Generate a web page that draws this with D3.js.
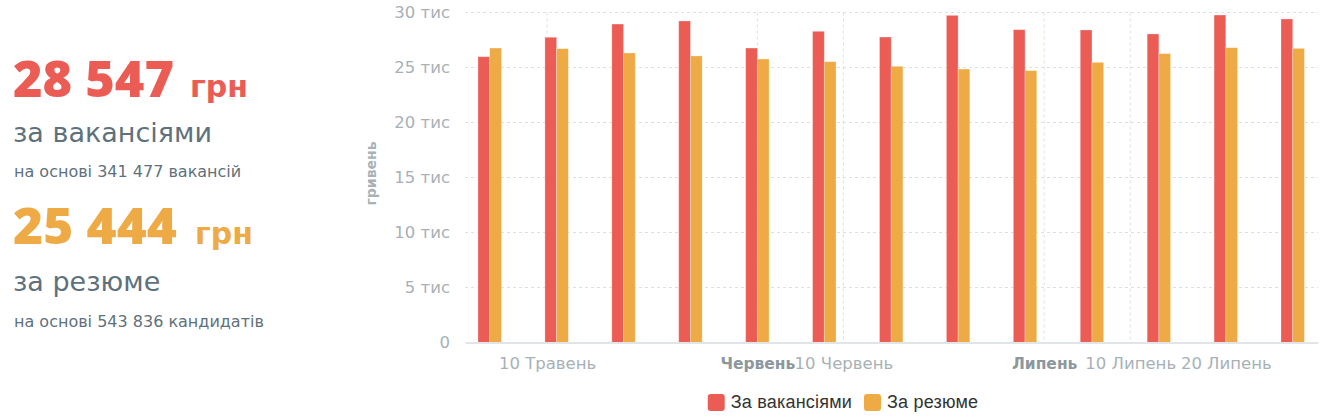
<!DOCTYPE html>
<html>
<head>
<meta charset="utf-8">
<script src="https://cdn.jsdelivr.net/npm/d3@7"></script>
<style>
  html, body { margin: 0; background: #fff; overflow: hidden; }
  svg { display: block; }
</style>
</head>
<body>
<svg width="1335" height="420"></svg>
<script>
// weekly points (Mondays)
const weeks = ['2020-05-04', '2020-05-11', '2020-05-18', '2020-05-25', '2020-06-01', '2020-06-08',
  '2020-06-15', '2020-06-22', '2020-06-29', '2020-07-06', '2020-07-13', '2020-07-20', '2020-07-27'];
const vacancySalary = [25980, 27750, 28950, 29230, 26770, 28290, 27770, 29740, 28440, 28410, 28050, 29770, 29410];
const resumeSalary = [26770, 26710, 26320, 26050, 25770, 25530, 25110, 24860, 24710, 25470, 26260, 26800, 26740];

const seriesNames = ['За вакансіями', 'За резюме'];
const seriesColors = ['#eb5c55', '#edaa45'];

const tickDates = ['2020-05-10', '2020-06-01', '2020-06-10', '2020-07-01', '2020-07-10', '2020-07-20'];
const tickLabels = ['10 Травень', 'Червень', '10 Червень', 'Липень', '10 Липень', '20 Липень'];
const monthStart = [false, true, false, true, false, false];

const yTicks = [0, 5000, 10000, 15000, 20000, 25000, 30000];

const summary = [
  { value: '28 547', unit: 'грн', label: 'за вакансіями', note: 'на основі 341 477 вакансій' },
  { value: '25 444', unit: 'грн', label: 'за резюме', note: 'на основі 543 836 кандидатів' }
];

const parseDay = d3.timeParse('%Y-%m-%d');
const svg = d3.select('svg');

// ---- left summary block
const blocks = svg.selectAll('g.summary')
  .data(summary)
  .enter()
  .append('g')
  .attr('class', 'summary')
  .attr('transform', (d, i) => `translate(13, ${i === 0 ? 97 : 244})`);

blocks.append('text')
  .text((d) => d.value)
  .attr('font-family', 'Open Sans, sans-serif')
  .attr('font-weight', 800)
  .attr('font-size', 49)
  .attr('textLength', (d, i) => i === 0 ? 161 : 164)
  .attr('lengthAdjust', 'spacingAndGlyphs')
  .attr('fill', (d, i) => seriesColors[i]);

blocks.append('text')
  .text((d) => d.unit)
  .attr('x', (d, i) => i === 0 ? 177 : 182)
  .attr('font-family', 'DejaVu Sans, sans-serif')
  .attr('font-weight', 'bold')
  .attr('font-size', 30)
  .attr('fill', (d, i) => seriesColors[i]);

blocks.append('text')
  .text((d) => d.label)
  .attr('x', 0)
  .attr('y', (d, i) => i === 0 ? 45 : 47)
  .attr('font-family', 'DejaVu Sans, sans-serif')
  .attr('font-size', 27)
  .attr('fill', '#5e717c');

blocks.append('text')
  .text((d) => d.note)
  .attr('x', 1)
  .attr('y', (d, i) => i === 0 ? 80 : 83)
  .attr('font-family', 'DejaVu Sans, sans-serif')
  .attr('font-size', 16)
  .attr('fill', '#5e717c');

// ---- chart
const x = d3.scaleTime()
  .domain([new Date(2020, 4, 1, 10), new Date(2020, 6, 29, 15, 30)])
  .range([465, 1318]);

const y = d3.scaleLinear()
  .domain([0, 30000])
  .range([342.5, 12.5]);

// horizontal grid
svg.append('g')
  .selectAll('line')
  .data(yTicks.slice(1))
  .enter()
  .append('line')
  .attr('x1', x.range()[0])
  .attr('x2', x.range()[1])
  .attr('y1', (d) => y(d))
  .attr('y2', (d) => y(d))
  .attr('stroke', '#dcdfe3')
  .attr('stroke-dasharray', '3,3');

// vertical grid
svg.append('g')
  .selectAll('line')
  .data(tickDates)
  .enter()
  .append('line')
  .attr('x1', (d) => x(parseDay(d)))
  .attr('x2', (d) => x(parseDay(d)))
  .attr('y1', y(30000))
  .attr('y2', y(0))
  .attr('stroke', '#dcdfe3')
  .attr('stroke-dasharray', '3,3');

// bars
const weekWidth = x(parseDay('2020-05-11')) - x(parseDay('2020-05-04'));
const barW = weekWidth * 0.175;
[vacancySalary, resumeSalary].forEach((values, s) => {
  svg.append('g')
    .selectAll('rect')
    .data(values)
    .enter()
    .append('rect')
    .attr('x', (d, i) => x(parseDay(weeks[i])) + (s === 0 ? -barW : 0))
    .attr('y', (d) => y(d))
    .attr('width', barW)
    .attr('height', (d) => y(0) - y(d))
    .attr('fill', seriesColors[s])
    .attr('stroke', 'rgba(255,255,255,0.35)')
    .attr('stroke-width', 0.8);
});

// x axis
const xAxis = svg.append('g')
  .attr('transform', `translate(0, ${y(0)})`)
  .call(d3.axisBottom(x)
    .tickValues(tickDates.map(parseDay))
    .tickSize(0)
    .tickPadding(15)
    .tickFormat((d, i) => tickLabels[i]));
xAxis.select('.domain')
  .attr('stroke', '#e2e5e8')
  .attr('stroke-width', 2);
xAxis.selectAll('text')
  .attr('font-family', 'DejaVu Sans, sans-serif')
  .attr('font-size', (d, i) => monthStart[i] ? 15.5 : 16.5)
  .attr('font-weight', (d, i) => monthStart[i] ? 'bold' : 'normal')
  .attr('fill', (d, i) => monthStart[i] ? '#8c979e' : '#a8b1b7');

// y axis
const yAxis = svg.append('g')
  .attr('transform', `translate(${x.range()[0]}, 0)`)
  .call(d3.axisLeft(y)
    .tickValues(yTicks)
    .tickSize(0)
    .tickPadding(15)
    .tickFormat((d) => d === 0 ? '0' : d / 1000 + ' тис'));
yAxis.select('.domain').remove();
yAxis.selectAll('text')
  .attr('font-family', 'DejaVu Sans, sans-serif')
  .attr('font-size', 16.5)
  .attr('fill', '#a8b1b7');

svg.append('text')
  .text('гривень')
  .attr('transform', `translate(376, ${(y(0) + y(30000)) / 2 - 4}) rotate(-90)`)
  .attr('text-anchor', 'middle')
  .attr('font-family', 'DejaVu Sans, sans-serif')
  .attr('font-weight', 'bold')
  .attr('font-size', 14)
  .attr('fill', '#a8b1b7');

// legend
const legend = svg.append('g');
let lx = 0;
seriesNames.forEach((name, i) => {
  const item = legend.append('g').attr('transform', `translate(${lx}, 0)`);
  item.append('rect')
    .attr('y', -14)
    .attr('width', 17)
    .attr('height', 17)
    .attr('rx', 3)
    .attr('fill', seriesColors[i]);
  const t = item.append('text')
    .text(name)
    .attr('x', 23)
    .attr('font-family', 'Liberation Sans, Arial, sans-serif')
    .attr('font-size', 18)
    .attr('letter-spacing', 0.2)
    .attr('fill', '#333');
  lx += 23 + t.node().getComputedTextLength() + 12;
});
const legendW = lx - 12;
legend.attr('transform', `translate(${843 - legendW / 2}, 408)`);
</script>
</body>
</html>
